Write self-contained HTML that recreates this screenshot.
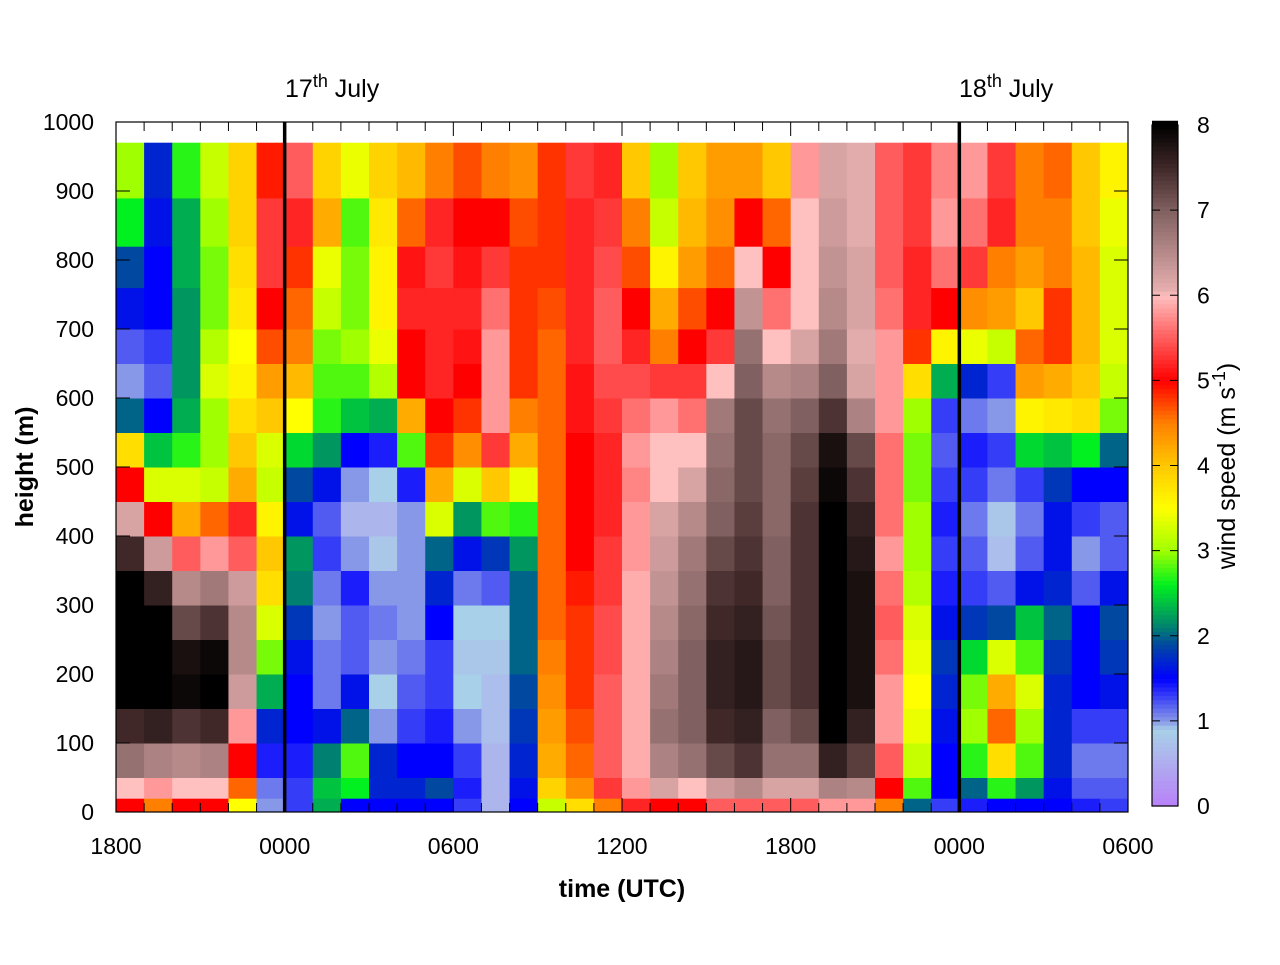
<!DOCTYPE html>
<html><head><meta charset="utf-8"><style>
html,body{margin:0;padding:0;background:#fff;}
svg text{font-family:"Liberation Sans",sans-serif;fill:#000;}
</style></head><body>
<svg id="chart" width="1280" height="960" viewBox="0 0 1280 960" xmlns="http://www.w3.org/2000/svg">
<g id="cells"></g>
<g id="overlay"></g>
</svg>
<script>
// height bins (m) — bottom edges plus final top
const heightBins = [0,20,50,100,150,200,250,300,350,400,450,500,550,600,650,700,760,820,890,970];
// hourly columns starting 1800 UTC 16 July (36 hours)
const hours = Array.from({length:36},(_, i)=>i);
const tickLabels = ["1800","0000","0600","1200","1800","0000","0600"];
const yTickLabels = ["0","100","200","300","400","500","600","700","800","900","1000"];
const cbarLabels = ["0","1","2","3","4","5","6","7","8"];
// wind speed (m/s), each column listed from bottom to top
const c00=[5,6,6.8,7.5,8,8,8,8,7.5,6.2,5,3.8,2.0,1.0,1.2,1.6,1.9,2.6,3.0];
const c01=[4.5,5.8,6.6,7.6,8,8,8,7.6,6.3,5,3.3,2.4,1.5,1.2,1.3,1.5,1.5,1.6,1.7];
const c02=[5,6,6.5,7.4,7.9,7.8,7.2,6.5,5.5,4.2,3.3,2.7,2.3,2.2,2.2,2.2,2.3,2.3,2.7];
const c03=[5,6,6.6,7.5,8,7.9,7.4,6.7,5.8,4.6,3.2,3.0,3.0,3.3,3.1,2.9,2.9,3.0,3.2];
const c04=[3.5,4.6,5,5.8,6.3,6.5,6.5,6.3,5.5,5.2,4.2,4.0,3.8,3.6,3.5,3.7,3.8,3.9,3.9];
const c05=[1.0,1.1,1.4,1.7,2.3,2.9,3.3,3.8,4.0,3.6,3.2,3.3,4.0,4.3,4.7,5.0,5.3,5.3,4.9];
const c06=[1.3,1.3,1.4,1.5,1.5,1.6,1.8,2.1,2.2,1.6,1.9,2.5,3.5,4.1,4.5,4.6,4.8,5.2,5.5];
const c07=[2.3,2.4,2.1,1.6,1.1,1.1,1.0,1.1,1.3,1.2,1.6,2.2,2.7,2.8,2.9,3.2,3.4,4.2,3.9];
const c08=[1.5,2.6,2.8,2.0,1.6,1.2,1.2,1.4,1.0,0.6,1.0,1.5,2.4,2.8,3.0,2.9,2.9,2.8,3.4];
const c09=[1.5,1.7,1.7,1.0,0.9,1.0,1.1,1.0,0.8,0.6,0.9,1.4,2.3,3.1,3.4,3.6,3.6,3.7,3.9];
const c10=[1.5,1.7,1.5,1.3,1.2,1.1,1.0,1.0,1.0,1.0,1.4,2.8,4.2,5,5,5.2,5.1,4.6,4.1];
const c11=[1.5,1.9,1.5,1.4,1.3,1.3,1.5,1.7,2.0,3.3,4.2,4.8,5,5.2,5.2,5.2,5.3,5.2,4.5];
const c12=[1.3,1.4,1.3,1.0,0.9,0.8,0.9,1.1,1.6,2.2,3.3,4.4,4.8,5,5.1,5.2,5.1,5,4.7];
const c13=[0.6,0.6,0.6,0.7,0.7,0.8,0.9,1.2,1.8,2.8,4.0,5.3,5.8,5.8,5.8,5.6,5.3,5.0,4.5];
const c14=[1.5,1.6,1.7,1.8,1.9,2.0,2.0,2.0,2.2,2.7,3.4,4.2,4.5,4.8,4.8,4.8,4.8,4.7,4.4];
const c15=[3.2,3.9,4.2,4.3,4.4,4.5,4.6,4.6,4.6,4.6,4.6,4.6,4.6,4.6,4.6,4.7,4.8,4.8,4.8];
const c16=[3.8,4.4,4.6,4.7,4.8,4.8,4.8,4.9,5.0,5.0,5.0,5.0,5.1,5.1,5.2,5.2,5.2,5.2,5.3];
const c17=[4.5,5.3,5.5,5.5,5.5,5.4,5.4,5.3,5.3,5.2,5.2,5.2,5.3,5.4,5.5,5.5,5.4,5.3,5.2];
const c18=[5.2,5.8,5.9,5.9,5.9,5.9,5.9,5.9,5.8,5.8,5.7,5.8,5.6,5.4,5.2,5.0,4.7,4.5,4.0];
const c19=[5.0,6.2,6.6,6.8,6.7,6.6,6.5,6.4,6.3,6.2,6.0,6.0,5.8,5.3,4.5,4.2,3.6,3.2,3.0];
const c20=[5.0,6.0,6.8,7.0,7.0,7.0,6.9,6.8,6.7,6.5,6.2,6.0,5.6,5.3,5.0,4.7,4.3,4.1,4.0];
const c21=[5.5,6.3,7.2,7.5,7.6,7.6,7.5,7.4,7.2,7.0,6.9,6.8,6.7,6.0,5.3,5.0,4.6,4.4,4.3];
const c22=[5.5,6.5,7.4,7.6,7.7,7.7,7.6,7.5,7.4,7.3,7.2,7.2,7.2,7.0,6.8,6.4,6.0,5.0,4.3];
const c23=[5.5,6.2,6.8,7.0,7.2,7.2,7.1,7.0,7.0,6.9,6.9,6.9,6.8,6.5,6.0,5.6,5.0,4.6,4.0];
const c24=[5.5,6.2,6.8,7.2,7.4,7.4,7.4,7.4,7.4,7.4,7.3,7.2,7.0,6.6,6.2,6.0,6.0,6.0,5.8];
const c25=[5.8,6.6,7.6,8,8,8,8,8,8,8,7.9,7.8,7.4,7.0,6.7,6.5,6.4,6.3,6.2];
const c26=[5.8,6.5,7.3,7.6,7.8,7.8,7.8,7.8,7.7,7.6,7.4,7.2,6.6,6.2,6.1,6.2,6.2,6.1,6.1];
const c27=[4.5,5.0,5.5,5.8,5.8,5.6,5.5,5.6,5.8,5.6,5.6,5.6,5.8,5.8,5.8,5.6,5.5,5.5,5.5];
const c28=[2.0,2.8,3.2,3.4,3.5,3.4,3.3,3.1,3.0,3.0,2.9,2.9,3.0,3.8,4.8,5.2,5.2,5.3,5.3];
const c29=[1.3,1.5,1.5,1.6,1.7,1.8,1.6,1.4,1.3,1.4,1.3,1.2,1.3,2.3,3.6,5.0,5.6,5.8,5.7];
const c30=[1.4,2.0,2.7,3.0,2.9,2.5,1.8,1.3,1.2,1.1,1.3,1.4,1.1,1.7,3.4,4.4,5.3,5.6,5.8];
const c31=[1.5,2.7,3.8,4.6,4.2,3.3,1.9,1.2,0.7,0.8,1.1,1.3,1.0,1.3,3.2,4.3,4.5,5.2,5.3];
const c32=[1.5,2.2,2.8,3.0,3.3,2.8,2.4,1.6,1.2,1.1,1.3,2.5,3.6,4.3,4.6,4.0,4.3,4.5,4.5];
const c33=[1.5,1.6,1.7,1.7,1.7,1.8,2.0,1.7,1.6,1.6,1.8,2.4,3.7,4.2,4.8,4.8,4.5,4.5,4.6];
const c34=[1.4,1.2,1.1,1.3,1.5,1.5,1.5,1.2,1.0,1.3,1.5,2.6,3.8,4.0,4.1,4.1,4.1,4.0,4.0];
const c35=[1.3,1.2,1.1,1.3,1.6,1.8,1.9,1.6,1.2,1.2,1.5,2.0,2.9,3.2,3.3,3.3,3.3,3.4,3.6];
const speeds=[c00,c01,c02,c03,c04,c05,c06,c07,c08,c09,c10,c11,c12,c13,c14,c15,c16,c17,c18,c19,c20,c21,c22,c23,c24,c25,c26,c27,c28,c29,c30,c31,c32,c33,c34,c35];

const X0=116,X1=1128,Y0=812,Y1=122;
const xScale=h=>X0+(X1-X0)*h/36;
const yScale=m=>Y0-(Y0-Y1)*m/1000;
const cbY=v=>806-(806-125)*v/8;
const stops=[[0,'#b880f8'],[0.9,'#a8d0e8'],[1.0,'#8898e8'],[1.5,'#0000ff'],[1.9,'#0048a0'],[2.1,'#008070'],[2.6,'#00f020'],[3.0,'#a0ff00'],[3.5,'#ffff00'],[4.0,'#ffc800'],[4.5,'#ff8000'],[5.0,'#ff0000'],[5.6,'#ff7070'],[6.0,'#ffc0c0'],[6.05,'#e8b0b0'],[7,'#806060'],[7.5,'#402828'],[8,'#000000']];
function hex(c){return [1,3,5].map(i=>parseInt(c.substr(i,2),16));}
function cmap(v){v=Math.max(0,Math.min(8,v));
 for(let i=1;i<stops.length;i++){if(v<=stops[i][0]){const a=stops[i-1],b=stops[i];const t=(v-a[0])/(b[0]-a[0]);const ca=hex(a[1]),cb=hex(b[1]);return 'rgb('+ca.map((x,k)=>Math.round(x+(cb[k]-x)*t)).join(',')+')';}}
 return '#000';}
const NS='http://www.w3.org/2000/svg';
function mk(tag,attrs,parent){const e=document.createElementNS(NS,tag);for(const k in attrs)e.setAttribute(k,attrs[k]);parent.appendChild(e);return e;}
const cells=document.getElementById('cells');
hours.forEach((h,i)=>{const col=speeds[i];
 for(let r=0;r<heightBins.length-1;r++){
  const x=xScale(h),x2=xScale(h+1),y=yScale(heightBins[r+1]),y2=yScale(heightBins[r]);
  const c=mk('rect',{x:x,y:y,width:x2-x+0.5,height:y2-y+0.5,fill:cmap(col[r])},cells);
  
  
 }});
const ov=document.getElementById('overlay');
const fr=mk('rect',{x:X0,y:Y1,width:X1-X0,height:Y0-Y1,fill:'none',stroke:'#000','stroke-width':1.2},ov);


for(let h=1;h<36;h++){const x=xScale(h);const maj=h%6===0;const L=maj?14:9;
 mk('line',{x1:x,x2:x,y1:Y0,y2:Y0-L,stroke:'#000','stroke-width':1},ov);
 mk('line',{x1:x,x2:x,y1:Y1,y2:Y1+L,stroke:'#000','stroke-width':1},ov);}
tickLabels.forEach((t,i)=>{const tx=mk('text',{x:xScale(i*6),y:854,'font-size':23,'text-anchor':'middle'},ov);tx.textContent=t;
 
 });
yTickLabels.forEach((t,i)=>{const y=yScale(i*100);
 if(i>0&&i<10){mk('line',{x1:X0,x2:X0+14,y1:y,y2:y,stroke:'#000'},ov);mk('line',{x1:X1,x2:X1-14,y1:y,y2:y,stroke:'#000'},ov);}
 const tx=mk('text',{x:94,y:y+8,'font-size':23,'text-anchor':'end'},ov);tx.textContent=t;
 
 });
[6,30].forEach(h=>{const l=mk('line',{x1:xScale(h),x2:xScale(h),y1:Y1,y2:Y0,stroke:'#000','stroke-width':3.5},ov);
 
 });
const cb=mk('g',{},ov);


for(let v=0;v<8;v+=0.05){mk('rect',{x:1152,y:cbY(v+0.05),width:26,height:cbY(v)-cbY(v+0.05)+0.6,fill:cmap(v+0.025)},cb);}
mk('rect',{x:1152,y:125,width:26,height:681,fill:'none',stroke:'#000','stroke-width':1.2},cb);
cbarLabels.forEach((t,i)=>{const y=cbY(i);
 if(i>0&&i<8){mk('line',{x1:1152,x2:1160,y1:y,y2:y,stroke:'#000'},cb);mk('line',{x1:1178,x2:1170,y1:y,y2:y,stroke:'#000'},cb);}
 const tx=mk('text',{x:1197,y:y+8,'font-size':23},cb);tx.textContent=t;
 
 });
</script>
<svg style="position:absolute;left:0;top:0" width="1280" height="960">
<text x="285" y="97" font-size="25" font-family="Liberation Sans, sans-serif">17<tspan dy="-10" font-size="18">th</tspan><tspan dy="10"> July</tspan></text>
<text x="959" y="97" font-size="25" font-family="Liberation Sans, sans-serif">18<tspan dy="-10" font-size="18">th</tspan><tspan dy="10"> July</tspan></text>
<text x="622" y="897" font-size="25" font-weight="bold" text-anchor="middle" font-family="Liberation Sans, sans-serif">time (UTC)</text>
<text transform="translate(33,467) rotate(-90)" font-size="25" font-weight="bold" text-anchor="middle" font-family="Liberation Sans, sans-serif">height (m)</text>
<text transform="translate(1235,466) rotate(-90)" font-size="25" text-anchor="middle" font-family="Liberation Sans, sans-serif">wind speed (m s<tspan dy="-10" font-size="18">-1</tspan><tspan dy="10">)</tspan></text>
</svg>
</body></html>
